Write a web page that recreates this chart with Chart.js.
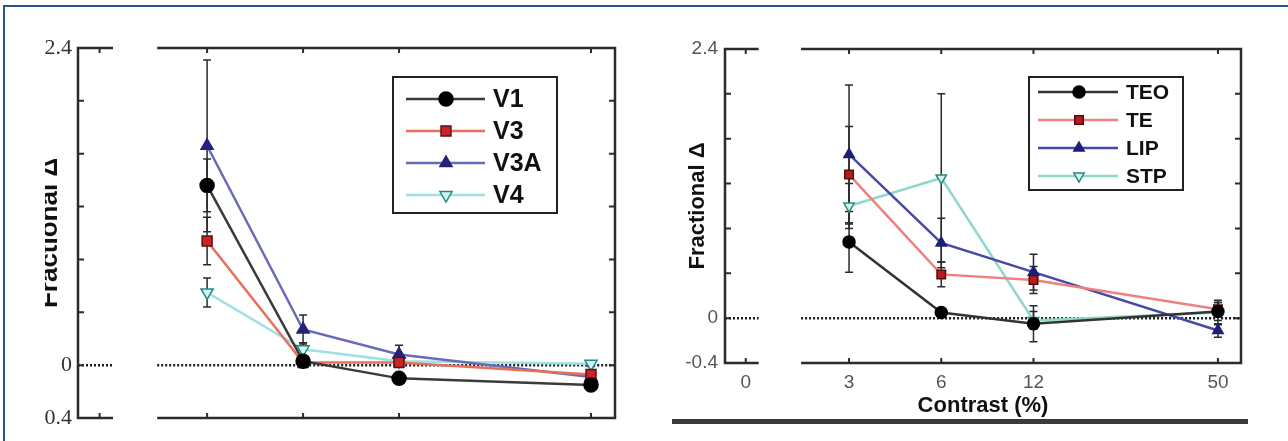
<!DOCTYPE html>
<html>
<head>
<meta charset="utf-8">
<script src="https://cdn.jsdelivr.net/npm/chart.js@4.4.0/dist/chart.umd.min.js"></script>
<style>
  html, body { margin: 0; padding: 0; background: #fff; }
  #page { position: relative; width: 1288px; height: 441px; overflow: hidden; background: #fff; }
  #clipL { position: absolute; left: 45px; top: 0; width: 595px; height: 441px; overflow: hidden; }
  #chartL { position: absolute; left: -45px; top: 0; }
  #chartR { position: absolute; left: 640px; top: 0; }
  #bar { position: absolute; left: 672px; top: 419px; width: 576px; height: 5px; background: #3b3b3b; }
  #frame { position: absolute; left: 3px; top: 5px; width: 1300px; height: 460px;
           border-top: 2px solid #25558a; border-left: 2px solid #25558a; }
</style>
</head>
<body>
<div id="page">
  <div id="clipL"><canvas id="chartL" width="640" height="441"></canvas></div>
  <canvas id="chartR" width="640" height="441"></canvas>
  <div id="bar"></div>
  <div id="frame"></div>
</div>
<script>
/* data */
const contrastTicks = ['0', '3', '6', '12', '50'];
const contrasts = ['3', '6', '12', '50'];
const yTickLabels = ['2.4', '0', '-0.4'];

// left panel (visual areas)
const v1 = [1.36, 0.03, -0.10, -0.15];
const v1Err = [0.20, 0.04, 0.03, 0.03];
const v3 = [0.94, 0.02, 0.02, -0.07];
const v3Err = [0.18, 0.03, 0.03, 0.03];
const v3a = [1.66, 0.27, 0.08, -0.09];
const v3aErr = [0.65, 0.11, 0.07, 0.04];
const v4 = [0.55, 0.12, 0.03, 0.01];
const v4Err = [0.11, 0.05, 0.03, 0.02];

// right panel
const teo = [0.68, 0.05, -0.05, 0.06];
const teoErr = [0.27, 0.03, 0.16, 0.08];
const te = [1.28, 0.39, 0.34, 0.08];
const teErr = [0.43, 0.11, 0.12, 0.06];
const lip = [1.46, 0.67, 0.41, -0.11];
const lipErr = [0.62, 0.22, 0.16, 0.06];
const stp = [1.00, 1.25, -0.02, 0.05];
const stpErr = [0.20, 0.75, 0.08, 0.11];

/* layout of the contrast axis (slot per tick label, axis break) */
const tickSlots = [-0.12, 1, 2, 3, 5];
const gapSlots = [0.02, 0.48];
const slotOf = (c) => tickSlots[contrastTicks.indexOf(c)];
const pts = (vals) => vals.map((v, i) => ({ x: slotOf(contrasts[i]), y: v }));

function series(label, vals, errs, line, fill, edge, style, rot, r) {
    return {
        label: label,
        data: pts(vals),
        errors: errs,
        borderColor: line,
        borderWidth: 2.5,
        pointStyle: style,
        pointRotation: rot,
        pointRadius: r,
        pointBackgroundColor: fill,
        pointBorderColor: edge,
        pointBorderWidth: 1.5,
        tension: 0,
        fill: false,
        clip: false
    };
}

// axis box, zero line, error bars and legend
const panelPlugin = {
    id: 'panel',
    beforeDatasetsDraw(chart, args, o) {
        const { ctx, chartArea: a, scales: { x, y } } = chart;
        const g0 = x.getPixelForValue(gapSlots[0]), g1 = x.getPixelForValue(gapSlots[1]);
        const y0 = y.getPixelForValue(0);
        ctx.save();
        ctx.strokeStyle = '#1a1a1a';
        ctx.lineWidth = 2.5;
        ctx.setLineDash([2, 2]);
        ctx.beginPath();
        ctx.moveTo(a.left, y0); ctx.lineTo(g0, y0);
        ctx.moveTo(g1, y0); ctx.lineTo(a.right, y0);
        ctx.stroke();
        ctx.setLineDash([]);
        ctx.strokeStyle = '#2a2a2a';
        ctx.lineWidth = 1.5;
        chart.data.datasets.forEach(ds => {
            ds.data.forEach((p, i) => {
                const e = ds.errors[i];
                const px = x.getPixelForValue(p.x);
                const top = y.getPixelForValue(p.y + e), bot = y.getPixelForValue(p.y - e);
                ctx.beginPath();
                ctx.moveTo(px, top); ctx.lineTo(px, bot);
                ctx.moveTo(px - 4, top); ctx.lineTo(px + 4, top);
                ctx.moveTo(px - 4, bot); ctx.lineTo(px + 4, bot);
                ctx.stroke();
            });
        });
        ctx.restore();
    },
    afterDraw(chart, args, o) {
        const { ctx, chartArea: a, scales: { x, y } } = chart;
        const g0 = x.getPixelForValue(gapSlots[0]), g1 = x.getPixelForValue(gapSlots[1]);
        ctx.save();
        ctx.strokeStyle = '#2b2b2b';
        ctx.lineWidth = 2.5;
        ctx.beginPath();
        ctx.moveTo(g0, a.top); ctx.lineTo(a.left, a.top); ctx.lineTo(a.left, a.bottom); ctx.lineTo(g0, a.bottom);
        ctx.moveTo(g1, a.top); ctx.lineTo(a.right, a.top); ctx.lineTo(a.right, a.bottom); ctx.lineTo(g1, a.bottom);
        ctx.stroke();
        // inward tick marks
        ctx.lineWidth = 2;
        ctx.beginPath();
        y.ticks.forEach(t => {
            const py = y.getPixelForValue(t.value);
            ctx.moveTo(a.left, py); ctx.lineTo(a.left + 6, py);
            ctx.moveTo(a.right, py); ctx.lineTo(a.right - 6, py);
        });
        tickSlots.forEach(s => {
            const px = x.getPixelForValue(s);
            ctx.moveTo(px, a.top); ctx.lineTo(px, a.top + 5);
            ctx.moveTo(px, a.bottom); ctx.lineTo(px, a.bottom - 5);
        });
        ctx.stroke();

        // legend
        const L = o.legend;
        ctx.fillStyle = '#fff';
        ctx.fillRect(L.x, L.y, L.w, L.h);
        ctx.strokeStyle = '#222';
        ctx.lineWidth = 2;
        ctx.strokeRect(L.x, L.y, L.w, L.h);
        ctx.font = L.font;
        ctx.textBaseline = 'middle';
        chart.data.datasets.forEach((ds, i) => {
            const ry = L.y + L.first + i * L.row;
            ctx.strokeStyle = ds.borderColor;
            ctx.lineWidth = 2.5;
            ctx.beginPath();
            ctx.moveTo(L.x0, ry); ctx.lineTo(L.x1, ry);
            ctx.stroke();
            ctx.fillStyle = ds.pointBackgroundColor;
            ctx.strokeStyle = ds.pointBorderColor;
            ctx.lineWidth = ds.pointBorderWidth;
            Chart.helpers.drawPoint(ctx, {
                pointStyle: ds.pointStyle, rotation: ds.pointRotation,
                radius: ds.pointRadius, borderWidth: ds.pointBorderWidth
            }, L.mx, ry);
            ctx.fillStyle = '#111';
            ctx.fillText(ds.label, L.tx, ry + 1);
        });
        ctx.restore();
    }
};

function yAxis(titleFont, labelFont, labelColor, pad, width) {
    return {
        type: 'linear',
        min: -0.4,
        max: 2.4,
        afterFit: (s) => { s.width = width; },
        grid: { display: false, drawTicks: false },
        border: { display: false },
        ticks: {
            stepSize: 0.4,
            padding: pad,
            color: labelColor,
            font: labelFont,
            callback: (v) => {
                const s = String(Math.round(v * 10) / 10);
                return yTickLabels.includes(s) ? s : '';
            }
        },
        title: {
            display: true,
            text: 'Fractional \u0394',
            color: '#111',
            font: titleFont,
            padding: { top: 4, bottom: 4 }
        }
    };
}

Chart.defaults.font.family = 'Liberation Sans, Arial, sans-serif';

new Chart(document.getElementById('chartL'), {
    type: 'line',
    data: {
        datasets: [
            series('V1', v1, v1Err, '#3a3a3a', '#000', '#000', 'circle', 0, 7),
            series('V3', v3, v3Err, '#e8705a', '#d0202a', '#5a1010', 'rect', 0, 7),
            series('V3A', v3a, v3aErr, '#6a6ab8', '#23237a', '#23237a', 'triangle', 0, 7),
            series('V4', v4, v4Err, '#9ee0e4', '#d8f6f6', '#1f8a8a', 'triangle', 180, 7)
        ]
    },
    options: {
        responsive: false,
        animation: false,
        devicePixelRatio: 1,
        layout: { padding: { left: 30, right: 25, top: 48, bottom: 23 } },
        plugins: {
            legend: { display: false },
            tooltip: { enabled: false },
            panel: {
                legend: { x: 393, y: 77, w: 164, h: 136, first: 22, row: 32,
                          x0: 406, x1: 485, mx: 446, tx: 493, font: 'bold 25px Liberation Sans' }
            }
        },
        scales: {
            x: {
                type: 'linear', min: -0.345, max: 5.25,
                afterFit: (s) => { s.height = 0; },
                grid: { display: false, drawTicks: false }, border: { display: false },
                ticks: { display: false }
            },
            y: yAxis({ size: 26, weight: 'bold' }, { size: 22, family: 'Liberation Serif' }, '#333', 6, 48)
        }
    },
    plugins: [panelPlugin]
});

new Chart(document.getElementById('chartR'), {
    type: 'line',
    data: {
        datasets: [
            series('TEO', teo, teoErr, '#333333', '#000', '#000', 'circle', 0, 6),
            series('TE', te, teErr, '#f08080', '#b81c1c', '#5a0a0a', 'rect', 0, 6),
            series('LIP', lip, lipErr, '#4848a8', '#1e1e78', '#1e1e78', 'triangle', 0, 6),
            series('STP', stp, stpErr, '#8fd8cc', '#d4f2ec', '#2a8a7a', 'triangle', 180, 6)
        ]
    },
    options: {
        responsive: false,
        animation: false,
        devicePixelRatio: 1,
        layout: { padding: { left: 41, right: 39, top: 49, bottom: 22 } },
        plugins: {
            legend: { display: false },
            tooltip: { enabled: false },
            panel: {
                legend: { x: 389, y: 77, w: 154, h: 113, first: 15, row: 28,
                          x0: 398, x1: 478, mx: 439, tx: 486, font: 'bold 21px Liberation Sans' }
            }
        },
        scales: {
            x: {
                type: 'linear', min: -0.345, max: 5.25,
                afterFit: (s) => { s.height = 56; },
                afterBuildTicks: (s) => { s.ticks = tickSlots.map(v => ({ value: v })); },
                grid: { display: false, drawTicks: false }, border: { display: false },
                ticks: {
                    padding: 8,
                    color: '#555',
                    font: { size: 19 },
                    autoSkip: false,
                    maxRotation: 0,
                    callback: (v, i) => contrastTicks[i]
                },
                title: {
                    display: true,
                    text: 'Contrast (%)',
                    color: '#111',
                    font: { size: 22, weight: 'bold' },
                    padding: { top: 0, bottom: 0 }
                }
            },
            y: yAxis({ size: 22, weight: 'bold' }, { size: 19 }, '#555', 7, 44)
        }
    },
    plugins: [panelPlugin]
});
</script>
</body>
</html>
